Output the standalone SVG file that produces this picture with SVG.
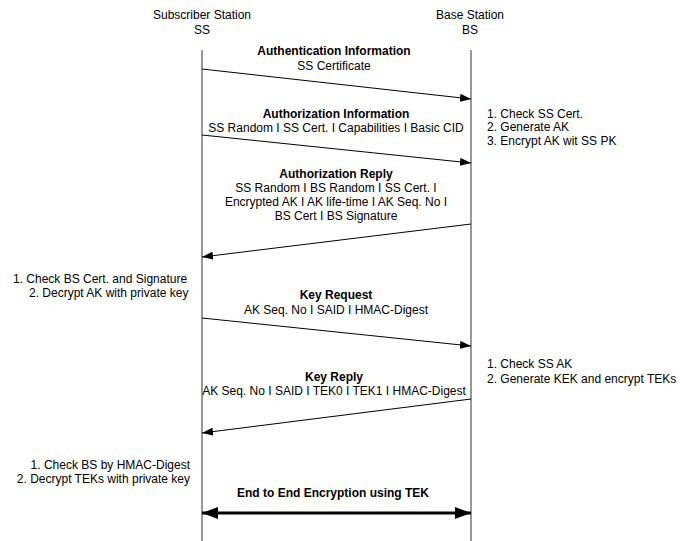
<svg xmlns="http://www.w3.org/2000/svg" width="690" height="541" viewBox="0 0 690 541">
  <style>
    text { font-family: "Liberation Sans", Arial, sans-serif; font-size: 12px; fill: #000; }
    .b { font-weight: bold; }
    .c { text-anchor: middle; }
    .e { text-anchor: end; }
    .life { stroke: #333; stroke-width: 1; fill: none; }
    .msg { stroke: #000; stroke-width: 1; fill: none; marker-end: url(#head); }
    .both { stroke: #000; stroke-width: 3; fill: none; marker-start: url(#bigStart); marker-end: url(#bigEnd); }
  </style>
  <defs>
    <marker id="head" markerWidth="11" markerHeight="8" refX="11" refY="4" orient="auto" markerUnits="userSpaceOnUse">
      <path d="M0,0 L11,4 L0,8 Z" fill="#000"/>
    </marker>
    <marker id="bigEnd" markerWidth="16" markerHeight="12" refX="16" refY="6" orient="auto" markerUnits="userSpaceOnUse">
      <path d="M0,0 L16,6 L0,12 Z" fill="#000"/>
    </marker>
    <marker id="bigStart" markerWidth="16" markerHeight="12" refX="0" refY="6" orient="auto" markerUnits="userSpaceOnUse">
      <path d="M16,0 L0,6 L16,12 Z" fill="#000"/>
    </marker>
  </defs>

  <!-- participants -->
  <g id="ss">
    <text class="c" x="202" y="19">Subscriber Station</text>
    <text class="c" x="202" y="34">SS</text>
    <line class="life" x1="202" y1="50" x2="202" y2="541"/>
  </g>
  <g id="bs">
    <text class="c" x="470" y="19">Base Station</text>
    <text class="c" x="470" y="34">BS</text>
    <line class="life" x1="471" y1="50" x2="471" y2="541"/>
  </g>

  <!-- messages -->
  <g id="connectors">
    <line class="msg" x1="202" y1="69" x2="471" y2="99"/>
    <line class="msg" x1="202" y1="135" x2="471" y2="163"/>
    <line class="msg" x1="471" y1="224" x2="202" y2="257"/>
    <line class="msg" x1="202" y1="318" x2="471" y2="346"/>
    <line class="msg" x1="471" y1="399" x2="202" y2="433"/>
    <line class="both" x1="202" y1="513" x2="471" y2="513"/>
  </g>

  <g id="msg1">
    <text class="c b" x="334" y="55">Authentication Information</text>
    <text class="c" x="334" y="70">SS Certificate</text>
  </g>
  <g id="msg2">
    <text class="c b" x="336" y="118">Authorization Information</text>
    <text class="c" x="336" y="132">SS Random I SS Cert. I Capabilities I Basic CID</text>
  </g>
  <g id="bsNote1">
    <text x="487" y="118">1. Check SS Cert.</text>
    <text x="487" y="131">2. Generate AK</text>
    <text x="487" y="145">3. Encrypt AK wit SS PK</text>
  </g>
  <g id="msg3">
    <text class="c b" x="336" y="178">Authorization Reply</text>
    <text class="c" x="336" y="192">SS Random I BS Random I SS Cert. I</text>
    <text class="c" x="336" y="206">Encrypted AK I AK life-time I AK Seq. No I</text>
    <text class="c" x="336" y="220">BS Cert I BS Signature</text>
  </g>
  <g id="ssNote1">
    <text x="13" y="283">1. Check BS Cert. and Signature</text>
    <text x="29" y="297">2. Decrypt AK with private key</text>
  </g>
  <g id="msg4">
    <text class="c b" x="336" y="299">Key Request</text>
    <text class="c" x="336" y="314">AK Seq. No I SAID I HMAC-Digest</text>
  </g>
  <g id="bsNote2">
    <text x="487" y="368">1. Check SS AK</text>
    <text x="487" y="383">2. Generate KEK and encrypt TEKs</text>
  </g>
  <g id="msg5">
    <text class="c b" x="334" y="381">Key Reply</text>
    <text class="c" x="334" y="395">AK Seq. No I SAID I TEK0 I TEK1 I HMAC-Digest</text>
  </g>
  <g id="ssNote2">
    <text class="e" x="190" y="469">1. Check BS by HMAC-Digest</text>
    <text class="e" x="190" y="483">2. Decrypt TEKs with private key</text>
  </g>
  <g id="msg6">
    <text class="c b" x="333" y="497">End to End Encryption using TEK</text>
  </g>
</svg>
